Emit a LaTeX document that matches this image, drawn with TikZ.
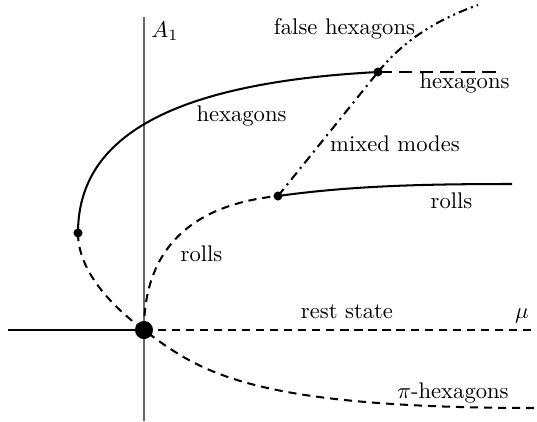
\documentclass[tikz,border=0pt]{standalone}
\usetikzlibrary{calc}
\begin{document}
\begin{tikzpicture}[x=0.442pt,y=-0.442pt,
  axis/.style={draw=black!60,line width=0.6pt},
  branch/.style={line width=0.9pt},
  dsh/.style={branch,dash pattern=on 3.6pt off 2.6pt},
  dshlong/.style={branch,dash pattern=on 6pt off 3.2pt},
  dashdot/.style={branch,dash pattern=on 4pt off 2.2pt on 0.9pt off 2.2pt},
  dashdotdot/.style={branch,dash pattern=on 4pt off 1.8pt on 0.9pt off 1.8pt on 0.9pt off 1.8pt},
  dotnode/.style={circle,fill=black,inner sep=0pt,minimum size=4pt},
  bigdot/.style={circle,fill=black,inner sep=0pt,minimum size=8pt},
  lbl/.style={font=\fontsize{10}{12}\selectfont,inner sep=0pt,anchor=base}]
\useasboundingbox (0,0) rectangle (537,421);
% points
\coordinate (vtop) at (144,17);
\coordinate (vbot) at (144,421);
\coordinate (hleft) at (8,330);
\coordinate (hright) at (537,330);
\coordinate (hexend) at (500,72);
\coordinate (rollend) at (512,184);
\coordinate (pend) at (537,408);
\coordinate (fend) at (478,5);
\coordinate (O) at (144,330);
\coordinate (T) at (78,233);
\coordinate (R) at (278,196);
\coordinate (H) at (378,72);
% axes
\draw[axis] (vtop) -- (vbot);
\draw[line width=0.7pt] (hleft) -- (O);
\draw[dsh] (O) -- (hright);
% hexagons
\draw[branch] (T) .. controls (78,148) and (150,84) .. (H);
\draw[dshlong] (H) -- (hexend);
% unstable hexagons and pi-hexagons
\draw[dsh] (T) .. controls (78,270) and (110,305) .. (O)
  .. controls (200,372) and (250,408) .. (pend);
% rolls
\draw[dsh] (O) .. controls (144,250) and (190,205) .. (R);
\draw[branch] (R) .. controls (350,186) and (420,184) .. (rollend);
% mixed modes
\draw[dashdot] (R) -- (H);
% false hexagons
\draw[dashdotdot] (H) .. controls (400,45) and (430,22) .. (fend);
% dots on top
\node[bigdot] (dO) at (O) {};
\node[dotnode] (dT) at (T) {};
\node[dotnode] (dR) at (R) {};
\node[dotnode] (dH) at (H) {};
% labels
\node[lbl] (lA) at (165,37) {$A_1$};
\node[lbl] (lfh) at (344.5,34.5) {false hexagons};
\node[lbl] (lh2) at (464.5,88) {hexagons};
\node[lbl] (lh1) at (241.5,121) {hexagons};
\node[lbl] (lmm) at (395,151) {mixed modes};
\node[lbl] (lr2) at (451.5,208) {rolls};
\node[lbl] (lr1) at (201.5,261) {rolls};
\node[lbl] (lrs) at (347,318) {rest state};
\node[lbl] (lmu) at (522,318) {$\mu$};
\node[lbl] (lpi) at (453,398) {$\pi$-hexagons};
\end{tikzpicture}
\end{document}
